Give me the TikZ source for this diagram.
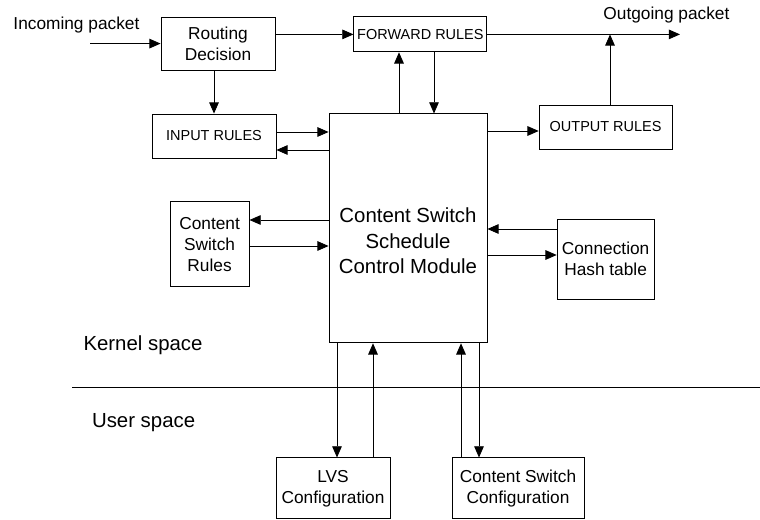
\documentclass[tikz,border=0pt]{standalone}
\usepackage{fontspec}
\setmainfont{Liberation Sans}
\usetikzlibrary{arrows.meta}

\newcommand\txtfont{\fontsize{12.3}{15}\selectfont}
\newcommand\capfont{\fontsize{10.3}{12}\selectfont}
\newcommand\bigfont{\fontsize{14.5}{18.4}\selectfont}

\tikzset{
    blk/.style={draw, inner sep=0pt, align=center, font=\txtfont},
    flow/.style={-{Triangle[length=2.8mm,width=2.4mm]}},
}

\begin{document}
\begin{tikzpicture}[line width=0.6pt]
    \useasboundingbox (0,0) rectangle (19,-13);
    % kernel space
    \node[blk, minimum width=2.85cm, minimum height=1.325cm] (route) at (5.45,-1.09) {Routing\\Decision};
    \node[blk, font=\capfont, minimum width=3.325cm, minimum height=0.875cm] (fwd) at (10.51,-0.86) {FORWARD RULES};
    \node[blk, font=\capfont, minimum width=3.1cm, minimum height=1.1cm] (input) at (5.35,-3.4) {INPUT RULES};
    \node[blk, font=\capfont, minimum width=3.325cm, minimum height=1.1cm] (output) at (15.14,-3.175) {OUTPUT RULES};
    \node[blk, minimum width=3.95cm, minimum height=5.725cm,
          label={[yshift=-3.1mm, align=center, font=\bigfont]center:{Content Switch\\Schedule\\Control Module}}] (csm) at (10.2,-5.71) {};
    \node[blk, minimum width=1.975cm, minimum height=2.125cm] (csrules) at (5.24,-6.11) {Content\\Switch\\Rules};
    \node[blk, minimum width=2.425cm, minimum height=2cm] (hash) at (15.14,-6.475) {Connection\\Hash table};
    % user space
    \node[blk, minimum width=2.85cm, minimum height=1.525cm] (lvs) at (8.325,-12.21) {LVS\\Configuration};
    \node[blk, minimum width=3.3cm, minimum height=1.525cm] (cscfg) at (12.95,-12.21) {Content Switch\\Configuration};

    \node[font=\txtfont] (inlbl) at (1.91,-0.625) {Incoming packet};
    \node[font=\txtfont] (outlbl) at (16.66,-0.375) {Outgoing packet};
    \node[font=\bigfont] (kern) at (3.575,-8.625) {Kernel space};
    \node[font=\bigfont] (user) at (3.59,-10.575) {User space};

    \coordinate (inpkt) at (2.25,-1.09);
    \coordinate (outpkt) at (17,-0.86);
    \coordinate (divl) at (1.8,-9.675);
    \coordinate (divr) at (19,-9.675);
    \draw (divl) -- (divr);

    % packet path
    \draw[flow] (inpkt) -- (route.west);
    \draw[flow] (route.east |- fwd.west) -- (fwd.west);
    \draw[flow] (fwd.east) -- (outpkt);
    \draw[flow] (route.south -| input.north) -- (input.north);
    \draw[flow] ([xshift=1.1mm]output.north) -- ([xshift=1.1mm]output.north |- fwd.east);

    % rules <-> module
    \draw[flow] ([yshift=1mm]input.east) -- ([yshift=1mm]input.east -| csm.west);
    \draw[flow] ([yshift=-3.5mm]input.east -| csm.west) -- ([yshift=-3.5mm]input.east);
    \draw[flow] ([xshift=-2.25mm]csm.north) -- ([xshift=-2.25mm]csm.north |- fwd.south);
    \draw[flow] ([xshift=6.5mm]csm.north |- fwd.south) -- ([xshift=6.5mm]csm.north);
    \draw[flow] ([yshift=-1mm]output.west -| csm.east) -- ([yshift=-1mm]output.west);
    \draw[flow] ([yshift=6.1mm]csrules.east -| csm.west) -- ([yshift=6.1mm]csrules.east);
    \draw[flow] ([yshift=-0.4mm]csrules.east) -- ([yshift=-0.4mm]csrules.east -| csm.west);
    \draw[flow] ([yshift=7.5mm]hash.west) -- ([yshift=7.5mm]hash.west -| csm.east);
    \draw[flow] ([yshift=1mm]hash.west -| csm.east) -- ([yshift=1mm]hash.west);

    % configuration tools
    \draw[flow] ([xshift=1mm]lvs.north |- csm.south) -- ([xshift=1mm]lvs.north);
    \draw[flow] ([xshift=10mm]lvs.north) -- ([xshift=10mm]lvs.north |- csm.south);
    \draw[flow] ([xshift=-14.25mm]cscfg.north) -- ([xshift=-14.25mm]cscfg.north |- csm.south);
    \draw[flow] ([xshift=-9.75mm]cscfg.north |- csm.south) -- ([xshift=-9.75mm]cscfg.north);
\end{tikzpicture}
\end{document}
